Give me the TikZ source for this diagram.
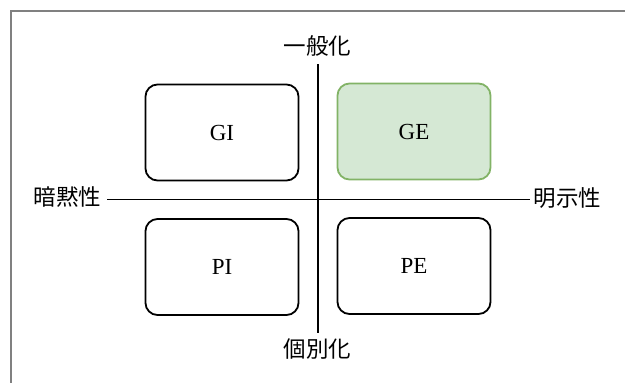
\documentclass[tikz,border=0pt]{standalone}
\usepackage{fontspec}
\setmainfont{Liberation Serif}
\newfontfamily\cjk{Noto Sans CJK JP}
\begin{document}
\begin{tikzpicture}[x=1pt,y=-1pt,
  quad/.style={draw=black,line width=1.8pt,rounded corners=12pt,minimum width=153pt,minimum height=96pt,inner sep=0pt,font=\fontsize{23}{26}\selectfont},
  axis/.style={draw=black,line width=1.6pt},
  axlabel/.style={font=\cjk\fontsize{22.5}{25}\selectfont,inner sep=0pt}]
\definecolor{gefill}{HTML}{D5E8D4}
\definecolor{geline}{HTML}{82B366}
\definecolor{frame}{HTML}{808080}
\useasboundingbox (0,0) rectangle (625,383);
\draw[frame,line width=2pt] (11,400) -- (11,10.5) -- (640,10.5);
\node[quad] (GI) at (222,132.5) {GI};
\node[quad,fill=gefill,draw=geline] (GE) at (414,131.5) {GE};
\node[quad] (PI) at (222,267) {PI};
\node[quad] (PE) at (414,266) {PE};
\node[axlabel] (top) at (317.5,45.5) {一般化};
\node[axlabel] (bot) at (317.5,349.5) {個別化};
\node[axlabel] (left) at (67.5,196.5) {暗黙性};
\node[axlabel] (right) at (567.5,198.5) {明示性};
\coordinate (vt) at (317.7,64);
\coordinate (vb) at (317.7,333);
\coordinate (hl) at (107,199.3);
\coordinate (hr) at (530,199.3);
\draw[axis] (vt) -- (vb);
\draw[axis] (hl) -- (hr);
\end{tikzpicture}
\end{document}
